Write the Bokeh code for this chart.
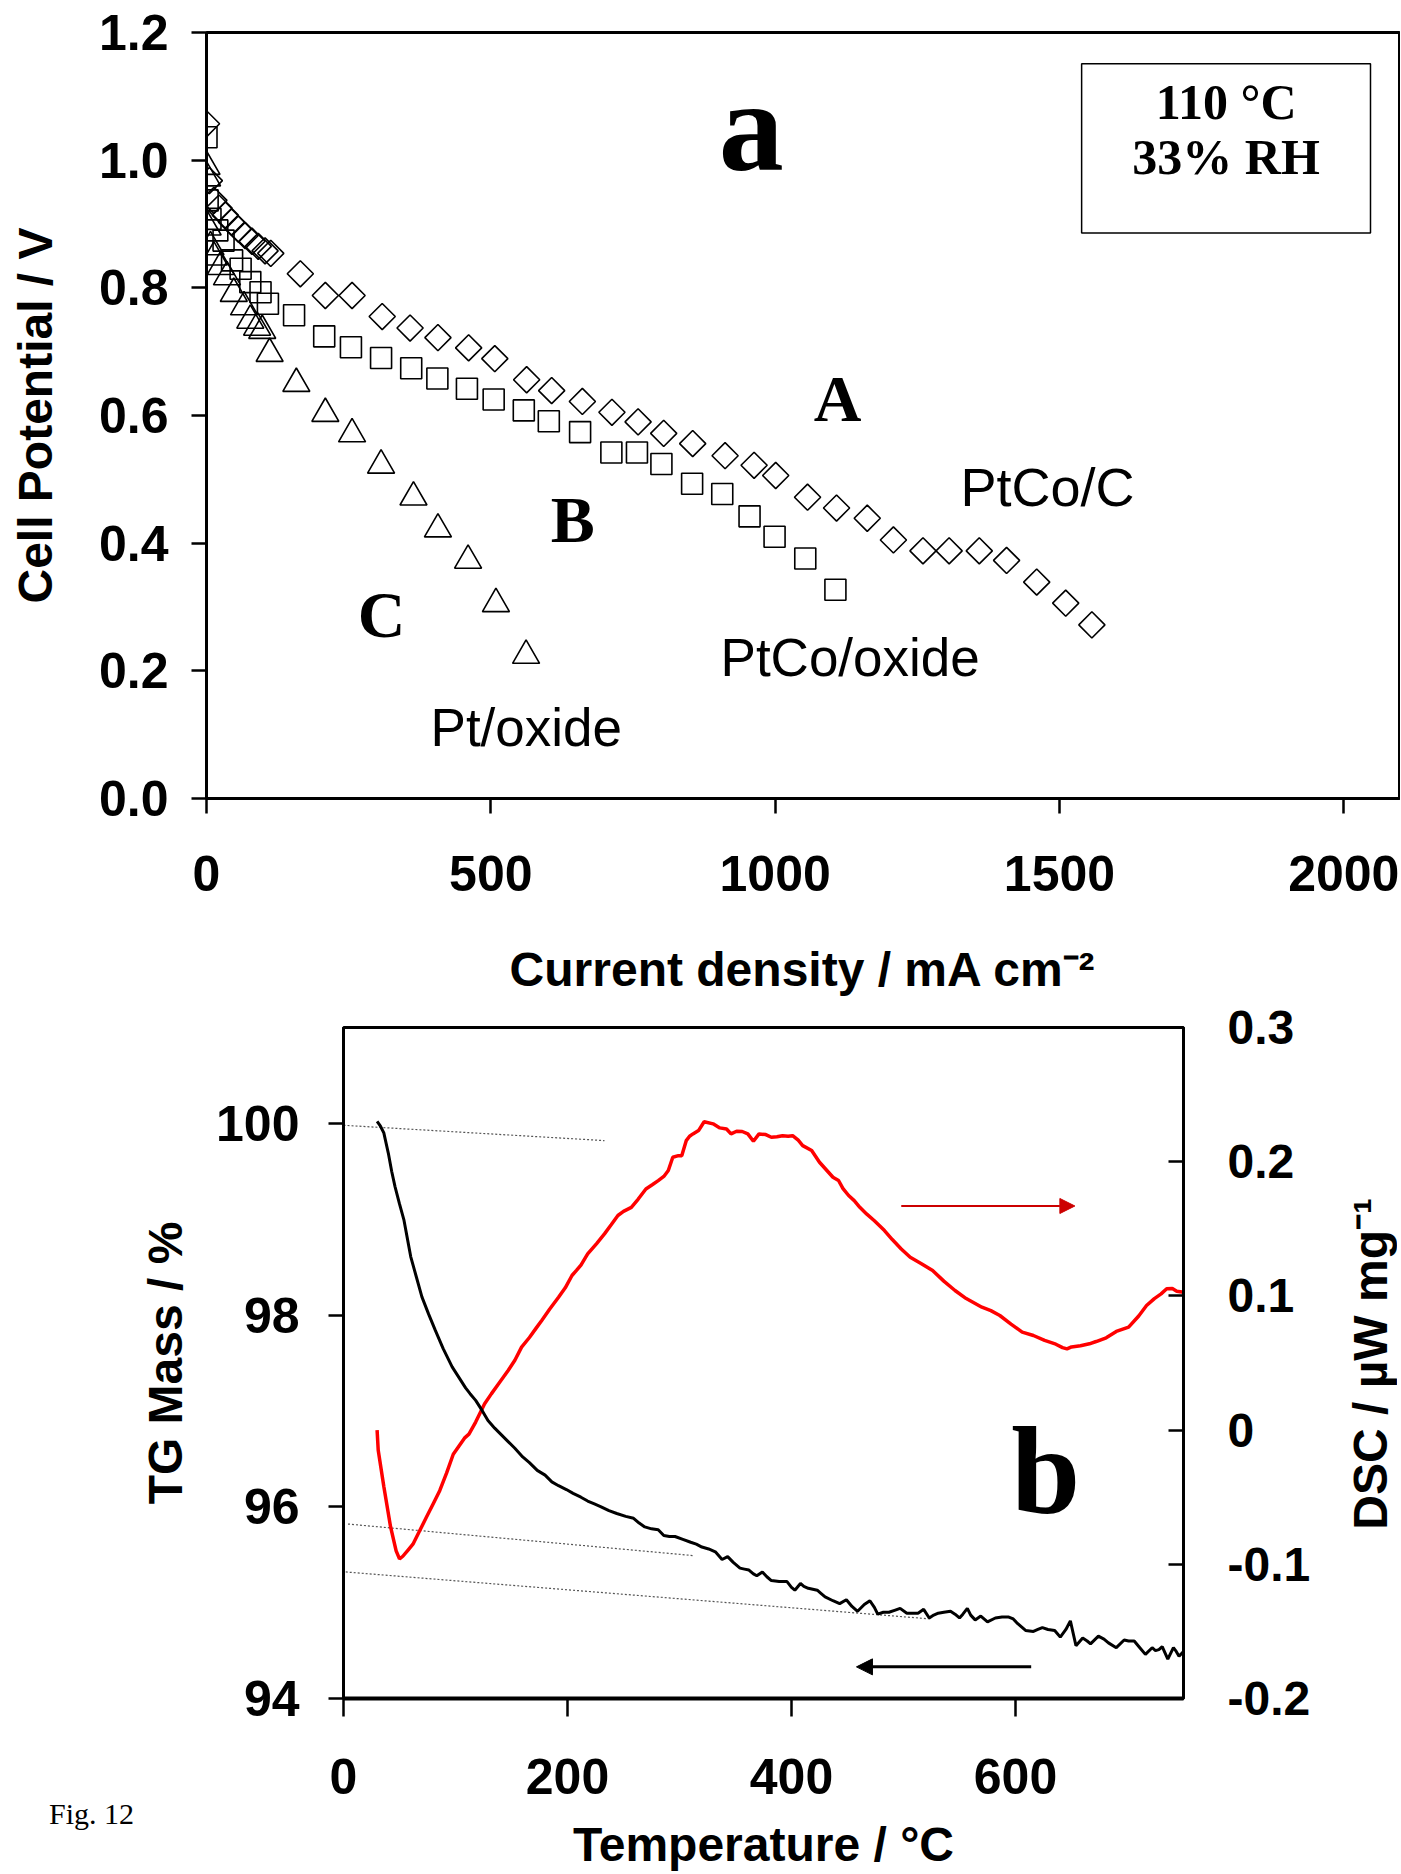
import math
from bokeh.plotting import figure
from bokeh.models import (Range1d, LinearAxis, FixedTicker, Label, BoxAnnotation,
                          Arrow, NormalHead, PrintfTickFormatter, Div)
from bokeh.layouts import row
from bokeh.embed import file_html
from bokeh.resources import INLINE

# ---------------- data: panel a (polarisation curves, 110 C, 33% RH) ----------------
cd_ptco_c = [0, 5, 13, 22, 33, 44, 56, 68, 80, 91, 103, 113, 165, 209, 256, 309, 358, 407,
             461, 507, 563, 607, 661, 713, 759, 804, 855, 912, 963, 1001, 1057, 1108, 1162,
             1208, 1260, 1306, 1359, 1407, 1460, 1511, 1557]
v_ptco_c = [1.057, 0.968, 0.937, 0.925, 0.914, 0.903, 0.892, 0.882, 0.873, 0.865, 0.858,
            0.854, 0.822, 0.788, 0.788, 0.755, 0.737, 0.722, 0.706, 0.689, 0.656, 0.639,
            0.622, 0.605, 0.590, 0.572, 0.556, 0.537, 0.522, 0.506, 0.472, 0.455, 0.439,
            0.405, 0.388, 0.388, 0.388, 0.373, 0.339, 0.306, 0.272]

cd_ptco_ox = [0, 2, 7, 19, 30, 45, 60, 77, 95, 108, 154, 207, 254, 307, 360, 406, 458, 505,
              558, 602, 657, 712, 757, 800, 854, 907, 955, 999, 1053, 1106]
v_ptco_ox = [1.036, 0.937, 0.908, 0.890, 0.874, 0.843, 0.830, 0.809, 0.793, 0.775, 0.757,
             0.724, 0.707, 0.690, 0.674, 0.658, 0.642, 0.625, 0.608, 0.591, 0.574, 0.542,
             0.542, 0.524, 0.493, 0.477, 0.442, 0.410, 0.376, 0.327]

cd_pt_ox = [0, 1, 2, 7, 13, 25, 36, 48, 66, 77, 89, 98, 111, 158, 209, 256, 307, 364, 407,
            460, 509, 562]
v_pt_ox = [0.990, 0.972, 0.895, 0.864, 0.848, 0.833, 0.817, 0.791, 0.770, 0.749, 0.738,
           0.733, 0.697, 0.650, 0.603, 0.571, 0.522, 0.472, 0.422, 0.373, 0.305, 0.224]

cd_ticks = [0, 500, 1000, 1500, 2000]
v_ticks = [0.0, 0.2, 0.4, 0.6, 0.8, 1.0, 1.2]

# ---------------- data: panel b (TG / DSC) ----------------
t_tg = [30, 33, 36, 40, 43, 46, 50, 54, 57, 60, 65, 70, 76, 82, 89, 97, 103, 109, 113, 118,
        124, 129, 135, 141, 147, 153, 160, 166, 173, 180, 186, 192, 199, 205, 212, 218, 224,
        230, 237, 244, 252, 259, 264, 269, 275, 281, 286, 291, 296, 303, 310, 315, 320, 326,
        332, 338, 343, 348, 354, 358, 362, 366, 369, 374, 378, 382, 389, 396, 400, 403, 408,
        411, 415, 423, 426, 430, 437, 443, 449, 454, 459, 465, 470, 474, 477, 482, 487, 492,
        497, 503, 508, 513, 518, 523, 527, 531, 536, 542, 546, 550, 553, 557, 560, 564, 569,
        575, 582, 588, 594, 598, 602, 609, 616, 620, 624, 629, 635, 640, 645, 649, 654, 660,
        664, 667, 674, 679, 683, 690, 697, 701, 706, 711, 716, 722, 725, 728, 731, 736, 741,
        743, 746, 750]
tg = [100.02, 99.97, 99.90, 99.69, 99.50, 99.34, 99.16, 98.99, 98.80, 98.61, 98.40, 98.19,
      98.01, 97.84, 97.65, 97.46, 97.35, 97.24, 97.18, 97.11, 97.00, 96.90, 96.82, 96.75,
      96.68, 96.61, 96.52, 96.46, 96.38, 96.33, 96.26, 96.22, 96.18, 96.14, 96.10, 96.06,
      96.03, 96.00, 95.96, 95.93, 95.90, 95.88, 95.83, 95.79, 95.77, 95.76, 95.70, 95.69,
      95.69, 95.66, 95.63, 95.61, 95.58, 95.56, 95.53, 95.45, 95.48, 95.42, 95.36, 95.35,
      95.34, 95.30, 95.28, 95.32, 95.27, 95.23, 95.22, 95.22, 95.16, 95.13, 95.20, 95.17,
      95.15, 95.13, 95.10, 95.06, 95.02, 94.99, 95.03, 94.96, 94.91, 94.98, 95.02, 94.95,
      94.88, 94.90, 94.90, 94.92, 94.94, 94.89, 94.89, 94.89, 94.93, 94.84, 94.87, 94.89,
      94.90, 94.91, 94.88, 94.84, 94.88, 94.94, 94.87, 94.82, 94.86, 94.80, 94.84, 94.85,
      94.85, 94.83, 94.78, 94.71, 94.70, 94.72, 94.74, 94.72, 94.71, 94.64, 94.72, 94.81,
      94.55, 94.63, 94.60, 94.57, 94.65, 94.62, 94.58, 94.53, 94.61, 94.60, 94.60, 94.53,
      94.46, 94.53, 94.50, 94.51, 94.54, 94.41, 94.53, 94.50, 94.44, 94.49]

t_dsc = [30, 31, 36, 42, 47, 50, 53, 58, 62, 68, 74, 80, 86, 92, 98, 103, 108, 112, 118, 126,
         132, 138, 147, 153, 159, 166, 172, 177, 184, 192, 198, 204, 208, 212, 218, 226, 233,
         239, 245, 250, 257, 263, 270, 276, 281, 286, 290, 294, 299, 302, 306, 309, 312, 317,
         322, 330, 336, 342, 346, 351, 356, 361, 366, 371, 377, 382, 387, 392, 397, 401, 406,
         410, 418, 425, 431, 437, 442, 446, 451, 456, 461, 467, 474, 483, 490, 498, 506, 516,
         526, 536, 546, 556, 570, 578, 586, 596, 606, 616, 626, 636, 642, 646, 650, 658, 666,
         672, 681, 690, 701, 710, 717, 724, 730, 735, 740, 744, 750]
dsc = [0.0, -0.015, -0.042, -0.072, -0.090, -0.096, -0.094, -0.089, -0.085, -0.075, -0.065,
       -0.055, -0.045, -0.032, -0.018, -0.012, -0.006, -0.003, 0.006, 0.0197, 0.027, 0.034,
       0.0444, 0.052, 0.0618, 0.069, 0.076, 0.0817, 0.090, 0.099, 0.106, 0.1152, 0.119, 0.123,
       0.1313, 0.139, 0.1462, 0.153, 0.1599, 0.163, 0.166, 0.172, 0.1797, 0.183, 0.1859, 0.189,
       0.1934, 0.2033, 0.2045, 0.2045, 0.2157, 0.219, 0.2207, 0.2232, 0.2298, 0.2282, 0.2252,
       0.2244, 0.2207, 0.2227, 0.2225, 0.2207, 0.2152, 0.2207, 0.2202, 0.2182, 0.2186, 0.2194,
       0.2190, 0.2194, 0.2160, 0.212, 0.2083, 0.1996, 0.194, 0.1884, 0.186, 0.180, 0.1748,
       0.171, 0.166, 0.1611, 0.156, 0.1487, 0.142, 0.135, 0.1288, 0.124, 0.1189, 0.111, 0.104,
       0.098, 0.0916, 0.089, 0.0854, 0.079, 0.073, 0.0705, 0.0668, 0.064, 0.0615, 0.0605,
       0.062, 0.0628, 0.0643, 0.066, 0.0688, 0.0735, 0.0767, 0.085, 0.0928, 0.098, 0.1015,
       0.1053, 0.1055, 0.1035, 0.1028]

# tangent (construction) lines on the TG curve
tan_t0 = [0, 4, 2]
tan_tg0 = [99.98, 95.82, 95.32]
tan_t1 = [233, 313, 524]
tan_tg1 = [99.82, 95.49, 94.83]

t_ticks = [0, 200, 400, 600]
tg_ticks = [94, 96, 98, 100]
dsc_ticks = [-0.2, -0.1, 0, 0.1, 0.2, 0.3]

SANS = "Liberation Sans"
SERIF = "Liberation Serif"


def style_axis(ax, tick_out, tick_in, lw, label_standoff, title_standoff,
               label_size="50px", title_size="48px"):
    ax.axis_line_width = lw
    ax.axis_line_color = "black"
    ax.major_tick_line_width = 2.5
    ax.major_tick_line_color = "black"
    ax.major_tick_out = tick_out
    ax.major_tick_in = tick_in
    ax.minor_tick_line_color = None
    ax.major_label_text_font = SANS
    ax.major_label_text_font_style = "bold"
    ax.major_label_text_font_size = label_size
    ax.major_label_text_color = "black"
    ax.major_label_standoff = label_standoff
    ax.axis_label_text_font = SANS
    ax.axis_label_text_font_style = "bold"
    ax.axis_label_text_font_size = title_size
    ax.axis_label_text_color = "black"
    ax.axis_label_standoff = title_standoff


def lab(p, x, y, text, font, size, style="bold", align="left", **kw):
    p.add_layout(Label(x=x, y=y, text=text, text_font=font, text_font_size=size,
                       text_font_style=style, text_align=align,
                       text_baseline="alphabetic", text_color="black", **kw))


# ---------------- panel a ----------------
P1_H = 998
p1 = figure(width=1400, height=P1_H, output_backend="svg", toolbar_location=None,
            x_range=Range1d(0, 2098), y_range=Range1d(0, 1.2),
            min_border_left=206, min_border_right=1, min_border_top=32,
            min_border_bottom=P1_H - 798)
p1.grid.visible = False
p1.outline_line_color = "black"
p1.outline_line_width = 3
p1.background_fill_color = "white"
p1.border_fill_color = "white"

p1.xaxis.ticker = FixedTicker(ticks=cd_ticks)
p1.yaxis.ticker = FixedTicker(ticks=v_ticks)
p1.yaxis.formatter = PrintfTickFormatter(format="%.1f")
style_axis(p1.xaxis[0], 15, 0, 3, 42, 49)
style_axis(p1.yaxis[0], 15, 0, 3, 23, 34)
p1.xaxis.axis_label = "Current density / mA cm\u207b\u00b2"
p1.yaxis.axis_label = "Cell Potential / V"

p1.scatter(cd_ptco_c, v_ptco_c, marker="square", angle=math.pi / 4, size=18.5,
           fill_color=None, line_color="black", line_width=1.6)
p1.scatter(cd_ptco_ox, v_ptco_ox, marker="square", size=21,
           fill_color=None, line_color="black", line_width=1.6)
p1.scatter(cd_pt_ox, v_pt_ox, marker="triangle", size=27,
           fill_color=None, line_color="black", line_width=1.6)

p1.add_layout(BoxAnnotation(left=1539, right=2047, bottom=0.886, top=1.151,
                            fill_alpha=0, line_color="black", line_width=1.5, line_alpha=1))

lab(p1, 958, 1.054, "a", SERIF, "130px", align="center")
lab(p1, 1793, 1.0915, "110 \u00b0C", SERIF, "50px", align="center")
lab(p1, 1793, 1.005, "33% RH", SERIF, "50px", align="center")
lab(p1, 1110, 0.626, "A", SERIF, "66px", align="center")
lab(p1, 644, 0.437, "B", SERIF, "66px", align="center")
lab(p1, 308, 0.288, "C", SERIF, "66px", align="center")
lab(p1, 1326, 0.488, "PtCo/C", SANS, "54px", style="normal")
lab(p1, 904, 0.221, "PtCo/oxide", SANS, "53px", style="normal")
lab(p1, 394, 0.111, "Pt/oxide", SANS, "53px", style="normal")

# ---------------- panel b ----------------
LEFT_W = 136     # caption column ("Fig. 12")
RIGHT_W = 57     # right-hand title column (DSC axis title)
P2_H = 1874 - P1_H
TOP2 = 1027 - P1_H
p2 = figure(width=1400 - LEFT_W - RIGHT_W, height=P2_H, output_backend="svg",
            toolbar_location=None, x_range=Range1d(0, 750), y_range=Range1d(94, 101),
            min_border_left=342 - LEFT_W, min_border_right=1343 - 1183, min_border_top=TOP2,
            min_border_bottom=176)
p2.extra_y_ranges = {"dsc": Range1d(-0.2, 0.3)}
p2.grid.visible = False
p2.outline_line_color = "black"
p2.outline_line_width = 3
p2.background_fill_color = "white"
p2.border_fill_color = "white"

p2.xaxis.ticker = FixedTicker(ticks=t_ticks)
p2.yaxis.ticker = FixedTicker(ticks=tg_ticks)
style_axis(p2.xaxis[0], 18, 0, 4, 42, 21)
style_axis(p2.yaxis[0], 15, 0, 3, 29, 21)
p2.xaxis.axis_label = "Temperature / \u00b0C"
p2.yaxis.axis_label = "TG Mass / %"

rax = LinearAxis(y_range_name="dsc", ticker=FixedTicker(ticks=dsc_ticks),
                 formatter=PrintfTickFormatter(format="%.1f"),
                 major_label_overrides={0: "0"})
style_axis(rax, 0, 15, 3, 44, 10, label_size="48px")
p2.add_layout(rax, "right")

p2.segment(x0=tan_t0, y0=tan_tg0, x1=tan_t1, y1=tan_tg1,
           line_color="#555555", line_width=1.2, line_dash="2 2")
p2.line(t_dsc, dsc, line_color="#ff0000", line_width=3.5, y_range_name="dsc")
p2.line(t_tg, tg, line_color="black", line_width=3)

p2.add_layout(Arrow(end=NormalHead(size=15, fill_color="#cc0000", line_color="#cc0000"),
                    x_start=498, y_start=0.167, x_end=653, y_end=0.167,
                    line_color="#cc0000", line_width=2.2, y_range_name="dsc"))
p2.add_layout(Arrow(end=NormalHead(size=16, fill_color="black", line_color="black"),
                    x_start=614, y_start=94.33, x_end=458, y_end=94.33,
                    line_color="black", line_width=3))

lab(p2, 627, 96.37, "b", SERIF, "124px", align="center")

caption = Div(
    text=('<div style="padding:%dpx 0 0 49px; font-family:\'Liberation Serif\'; '
          'font-size:30px; color:black; white-space:nowrap;">Fig. 12</div>') % (1793 - P1_H),
    width=LEFT_W, height=P2_H, margin=0)

dsc_title = Div(
    text=('<div style="height:%dpx; display:flex; align-items:flex-end;">'
          '<span style="writing-mode:vertical-rl; transform:rotate(180deg); '
          'font-family:\'Liberation Sans\'; font-weight:bold; font-size:48px; '
          'line-height:55px; color:black; white-space:nowrap;">'
          'DSC / \u00b5W mg\u207b\u00b9</span></div>') % (1530 - P1_H),
    width=RIGHT_W, height=P2_H, margin=0)

open("out.html", "w").write(file_html([p1, row(caption, p2, dsc_title)], INLINE))
